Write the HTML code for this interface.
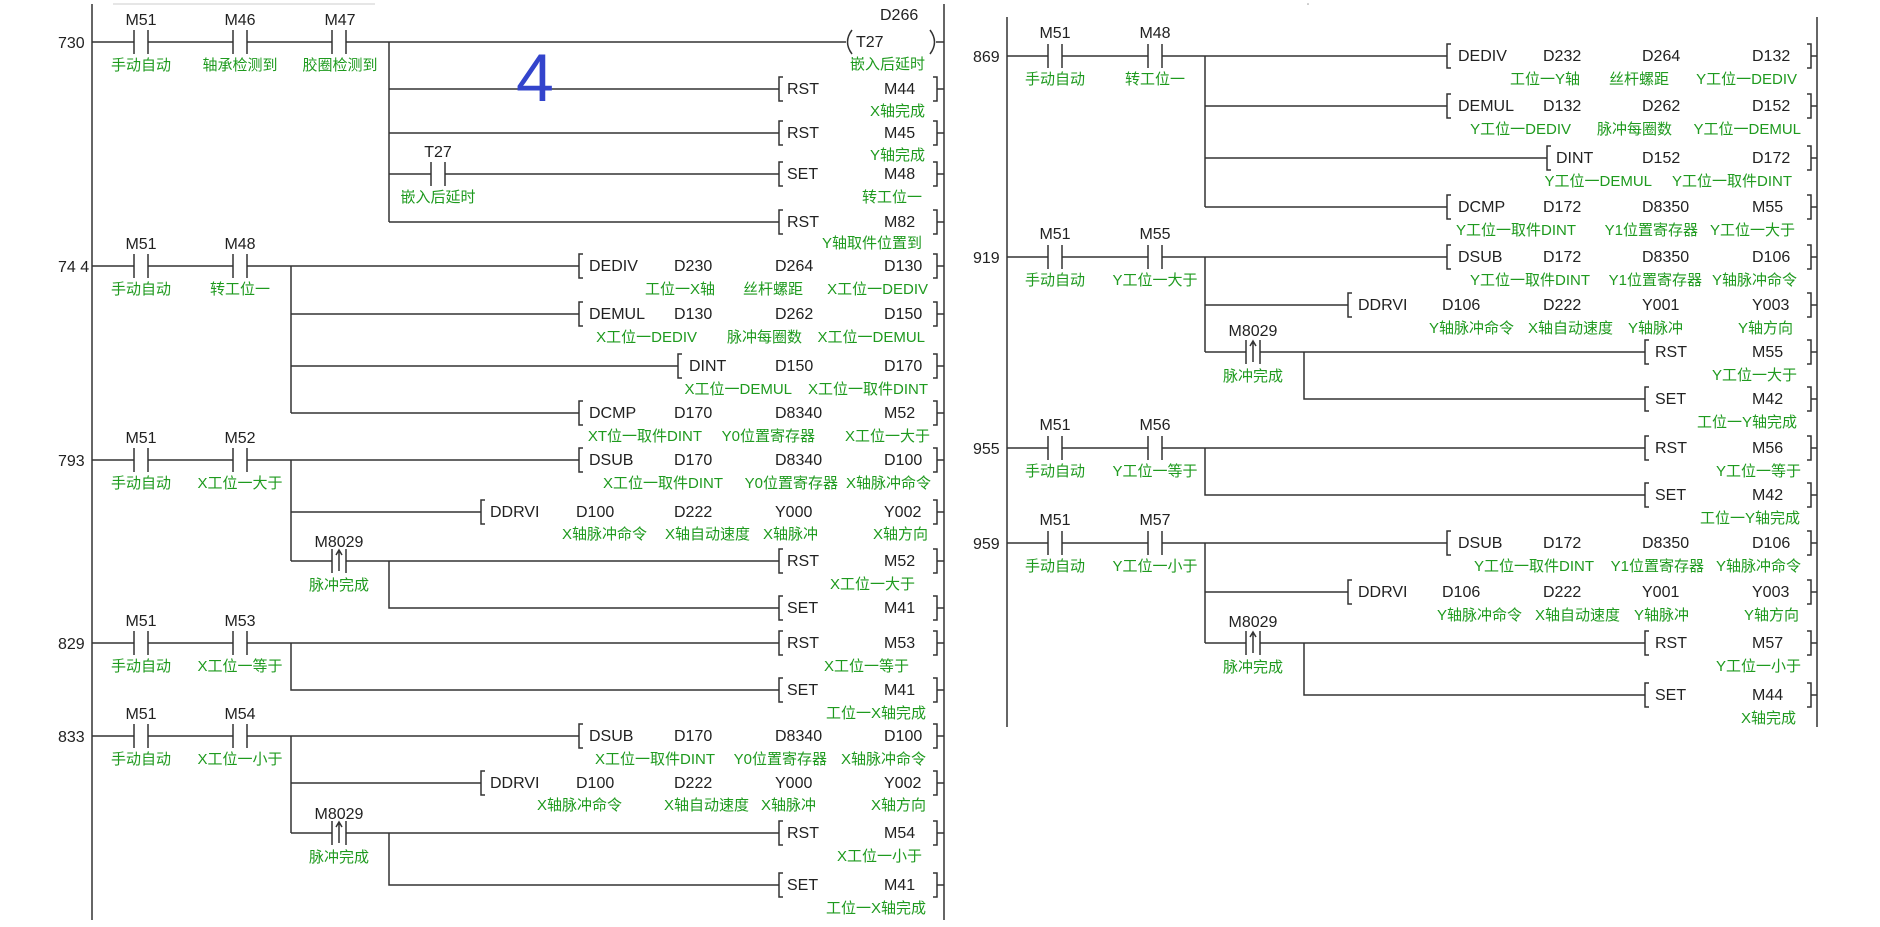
<!DOCTYPE html>
<html><head><meta charset="utf-8"><style>
html,body{margin:0;padding:0;background:#fff;}
svg{display:block}
.w{fill:none;stroke:#333;stroke-width:1.5}
text{font-family:"Liberation Sans","Noto Sans CJK SC",sans-serif;font-size:16px;fill:#222}
.g{fill:#1e9a1e;font-size:15px;text-anchor:end}
.gc{fill:#1e9a1e;font-size:15px;text-anchor:middle}
.c{text-anchor:middle}
</style></head><body>
<svg width="1880" height="927" viewBox="0 0 1880 927" xmlns="http://www.w3.org/2000/svg">
<path d="M113 4 H375" stroke="#ddd" stroke-width="1.5"/>
<!-- LEFT PANEL WIRES -->
<path class="w" d="M92 4 V920 M944 4 V920
M92 42 H134 M148 42 H233 M247 42 H332 M346 42 H846
M852 30 Q843 42 852 54 M930 30 Q939 42 930 54 M936 42 H944
M389 42 V222 M389 89 H779 M389 133 H779 M389 174 H431 M445 174 H779 M389 222 H779
M92 266 H134 M148 266 H233 M247 266 H579 M291 266 V413 M291 314 H579 M291 366 H678 M291 413 H579
M92 460 H134 M148 460 H233 M247 460 H579 M291 460 V561 M291 512 H481 M291 561 H332 M346 561 H779 M389 561 V608 H779
M92 643 H134 M148 643 H233 M247 643 H779 M291 643 V690 H779
M92 736 H134 M148 736 H233 M247 736 H579 M291 736 V833 M291 783 H481 M291 833 H332 M346 833 H779 M389 833 V885 H779
"/>
<!-- contacts left -->
<path class="w" d="
M134 30 V54 M148 30 V54 M233 30 V54 M247 30 V54 M332 30 V54 M346 30 V54
M431 162 V186 M445 162 V186
M134 254 V278 M148 254 V278 M233 254 V278 M247 254 V278
M134 448 V472 M148 448 V472 M233 448 V472 M247 448 V472
M332 549 V573 M346 549 V573 M339 571 V550 M336 555 L339 550 L342 555
M134 631 V655 M148 631 V655 M233 631 V655 M247 631 V655
M134 724 V748 M148 724 V748 M233 724 V748 M247 724 V748
M332 821 V845 M346 821 V845 M339 843 V822 M336 827 L339 822 L342 827
"/>
<!-- brackets left -->
<path class="w" d="
M783 77 H779 V101 H783 M933 77 H937 V101 H933 M937 89 H944
M783 121 H779 V145 H783 M933 121 H937 V145 H933 M937 133 H944
M783 162 H779 V186 H783 M933 162 H937 V186 H933 M937 174 H944
M783 210 H779 V234 H783 M933 210 H937 V234 H933 M937 222 H944
M583 254 H579 V278 H583 M933 254 H937 V278 H933 M937 266 H944
M583 302 H579 V326 H583 M933 302 H937 V326 H933 M937 314 H944
M682 354 H678 V378 H682 M933 354 H937 V378 H933 M937 366 H944
M583 401 H579 V425 H583 M933 401 H937 V425 H933 M937 413 H944
M583 448 H579 V472 H583 M933 448 H937 V472 H933 M937 460 H944
M485 500 H481 V524 H485 M933 500 H937 V524 H933 M937 512 H944
M783 549 H779 V573 H783 M933 549 H937 V573 H933 M937 561 H944
M783 596 H779 V620 H783 M933 596 H937 V620 H933 M937 608 H944
M783 631 H779 V655 H783 M933 631 H937 V655 H933 M937 643 H944
M783 678 H779 V702 H783 M933 678 H937 V702 H933 M937 690 H944
M583 724 H579 V748 H583 M933 724 H937 V748 H933 M937 736 H944
M485 771 H481 V795 H485 M933 771 H937 V795 H933 M937 783 H944
M783 821 H779 V845 H783 M933 821 H937 V845 H933 M937 833 H944
M783 873 H779 V897 H783 M933 873 H937 V897 H933 M937 885 H944
"/>
<!-- LEFT TEXT -->
<text x="58" y="48">730</text>
<text class="c" x="141" y="25">M51</text><text class="c" x="240" y="25">M46</text><text class="c" x="340" y="25">M47</text>
<text class="gc" x="141" y="70">手动自动</text><text class="gc" x="240" y="70">轴承检测到</text><text class="gc" x="340" y="70">胶圈检测到</text>
<text x="880" y="20">D266</text><text x="856" y="47">T27</text>
<text class="g" x="925" y="69">嵌入后延时</text>
<text x="516" y="101" style="font-size:68px;fill:#3344cc">4</text>
<text x="787" y="94">RST</text><text x="884" y="94">M44</text><text class="g" x="925" y="116">X轴完成</text>
<text x="787" y="138">RST</text><text x="884" y="138">M45</text><text class="g" x="925" y="160">Y轴完成</text>
<text class="c" x="438" y="157">T27</text><text class="gc" x="438" y="202">嵌入后延时</text>
<text x="787" y="179">SET</text><text x="884" y="179">M48</text><text class="g" x="922" y="202">转工位一</text>
<text x="787" y="227">RST</text><text x="884" y="227">M82</text><text class="g" x="922" y="248">Y轴取件位置到</text>

<text x="58" y="272">74 4</text>
<text class="c" x="141" y="249">M51</text><text class="c" x="240" y="249">M48</text>
<text class="gc" x="141" y="294">手动自动</text><text class="gc" x="240" y="294">转工位一</text>
<text x="589" y="271">DEDIV</text><text x="674" y="271">D230</text><text x="775" y="271">D264</text><text x="884" y="271">D130</text>
<text class="g" x="715" y="294">工位一X轴</text><text class="g" x="803" y="294">丝杆螺距</text><text class="g" x="928" y="294">X工位一DEDIV</text>
<text x="589" y="319">DEMUL</text><text x="674" y="319">D130</text><text x="775" y="319">D262</text><text x="884" y="319">D150</text>
<text class="g" x="697" y="342">X工位一DEDIV</text><text class="g" x="802" y="342">脉冲每圈数</text><text class="g" x="925" y="342">X工位一DEMUL</text>
<text x="689" y="371">DINT</text><text x="775" y="371">D150</text><text x="884" y="371">D170</text>
<text class="g" x="792" y="394">X工位一DEMUL</text><text class="g" x="928" y="394">X工位一取件DINT</text>
<text x="589" y="418">DCMP</text><text x="674" y="418">D170</text><text x="775" y="418">D8340</text><text x="884" y="418">M52</text>
<text class="g" x="702" y="441">XT位一取件DINT</text><text class="g" x="815" y="441">Y0位置寄存器</text><text class="g" x="930" y="441">X工位一大于</text>

<text x="58" y="466">793</text>
<text class="c" x="141" y="443">M51</text><text class="c" x="240" y="443">M52</text>
<text class="gc" x="141" y="488">手动自动</text><text class="gc" x="240" y="488">X工位一大于</text>
<text x="589" y="465">DSUB</text><text x="674" y="465">D170</text><text x="775" y="465">D8340</text><text x="884" y="465">D100</text>
<text class="g" x="723" y="488">X工位一取件DINT</text><text class="g" x="838" y="488">Y0位置寄存器</text><text class="g" x="931" y="488">X轴脉冲命令</text>
<text x="490" y="517">DDRVI</text><text x="576" y="517">D100</text><text x="674" y="517">D222</text><text x="775" y="517">Y000</text><text x="884" y="517">Y002</text>
<text class="g" x="647" y="539">X轴脉冲命令</text><text class="g" x="750" y="539">X轴自动速度</text><text class="g" x="818" y="539">X轴脉冲</text><text class="g" x="928" y="539">X轴方向</text>
<text class="c" x="339" y="547">M8029</text><text class="gc" x="339" y="590">脉冲完成</text>
<text x="787" y="566">RST</text><text x="884" y="566">M52</text><text class="g" x="915" y="589">X工位一大于</text>
<text x="787" y="613">SET</text><text x="884" y="613">M41</text>

<text x="58" y="649">829</text>
<text class="c" x="141" y="626">M51</text><text class="c" x="240" y="626">M53</text>
<text class="gc" x="141" y="671">手动自动</text><text class="gc" x="240" y="671">X工位一等于</text>
<text x="787" y="648">RST</text><text x="884" y="648">M53</text><text class="g" x="909" y="671">X工位一等于</text>
<text x="787" y="695">SET</text><text x="884" y="695">M41</text><text class="g" x="926" y="718">工位一X轴完成</text>

<text x="58" y="742">833</text>
<text class="c" x="141" y="719">M51</text><text class="c" x="240" y="719">M54</text>
<text class="gc" x="141" y="764">手动自动</text><text class="gc" x="240" y="764">X工位一小于</text>
<text x="589" y="741">DSUB</text><text x="674" y="741">D170</text><text x="775" y="741">D8340</text><text x="884" y="741">D100</text>
<text class="g" x="715" y="764">X工位一取件DINT</text><text class="g" x="827" y="764">Y0位置寄存器</text><text class="g" x="926" y="764">X轴脉冲命令</text>
<text x="490" y="788">DDRVI</text><text x="576" y="788">D100</text><text x="674" y="788">D222</text><text x="775" y="788">Y000</text><text x="884" y="788">Y002</text>
<text class="g" x="622" y="810">X轴脉冲命令</text><text class="g" x="749" y="810">X轴自动速度</text><text class="g" x="816" y="810">X轴脉冲</text><text class="g" x="926" y="810">X轴方向</text>
<text class="c" x="339" y="819">M8029</text><text class="gc" x="339" y="862">脉冲完成</text>
<text x="787" y="838">RST</text><text x="884" y="838">M54</text><text class="g" x="922" y="861">X工位一小于</text>
<text x="787" y="890">SET</text><text x="884" y="890">M41</text><text class="g" x="926" y="913">工位一X轴完成</text>

<!-- RIGHT PANEL WIRES -->
<circle cx="1308" cy="4" r="0.8" fill="#999"/>
<path class="w" d="M1007 17 V727 M1817 17 V727
M1007 56 H1048 M1062 56 H1148 M1162 56 H1447 M1205 56 V207 M1205 106 H1447 M1205 158 H1547 M1205 207 H1447
M1007 257 H1048 M1062 257 H1148 M1162 257 H1447 M1205 257 V352 M1205 305 H1348 M1205 352 H1246 M1260 352 H1645 M1304 352 V399 H1645
M1007 448 H1048 M1062 448 H1148 M1162 448 H1645 M1205 448 V495 H1645
M1007 543 H1048 M1062 543 H1148 M1162 543 H1447 M1205 543 V643 M1205 592 H1348 M1205 643 H1246 M1260 643 H1645 M1304 643 V695 H1645
"/>
<path class="w" d="
M1048 44 V68 M1062 44 V68 M1148 44 V68 M1162 44 V68
M1048 245 V269 M1062 245 V269 M1148 245 V269 M1162 245 V269
M1246 340 V364 M1260 340 V364 M1253 362 V341 M1250 346 L1253 341 L1256 346
M1048 436 V460 M1062 436 V460 M1148 436 V460 M1162 436 V460
M1048 531 V555 M1062 531 V555 M1148 531 V555 M1162 531 V555
M1246 631 V655 M1260 631 V655 M1253 653 V632 M1250 637 L1253 632 L1256 637
"/>
<path class="w" d="
M1451 44 H1447 V68 H1451 M1807 44 H1811 V68 H1807 M1811 56 H1817
M1451 94 H1447 V118 H1451 M1807 94 H1811 V118 H1807 M1811 106 H1817
M1551 146 H1547 V170 H1551 M1807 146 H1811 V170 H1807 M1811 158 H1817
M1451 195 H1447 V219 H1451 M1807 195 H1811 V219 H1807 M1811 207 H1817
M1451 245 H1447 V269 H1451 M1807 245 H1811 V269 H1807 M1811 257 H1817
M1352 293 H1348 V317 H1352 M1807 293 H1811 V317 H1807 M1811 305 H1817
M1649 340 H1645 V364 H1649 M1807 340 H1811 V364 H1807 M1811 352 H1817
M1649 387 H1645 V411 H1649 M1807 387 H1811 V411 H1807 M1811 399 H1817
M1649 436 H1645 V460 H1649 M1807 436 H1811 V460 H1807 M1811 448 H1817
M1649 483 H1645 V507 H1649 M1807 483 H1811 V507 H1807 M1811 495 H1817
M1451 531 H1447 V555 H1451 M1807 531 H1811 V555 H1807 M1811 543 H1817
M1352 580 H1348 V604 H1352 M1807 580 H1811 V604 H1807 M1811 592 H1817
M1649 631 H1645 V655 H1649 M1807 631 H1811 V655 H1807 M1811 643 H1817
M1649 683 H1645 V707 H1649 M1807 683 H1811 V707 H1807 M1811 695 H1817
"/>
<!-- RIGHT TEXT -->
<text x="973" y="62">869</text>
<text class="c" x="1055" y="38">M51</text><text class="c" x="1155" y="38">M48</text>
<text class="gc" x="1055" y="84">手动自动</text><text class="gc" x="1155" y="84">转工位一</text>
<text x="1458" y="61">DEDIV</text><text x="1543" y="61">D232</text><text x="1642" y="61">D264</text><text x="1752" y="61">D132</text>
<text class="g" x="1580" y="84">工位一Y轴</text><text class="g" x="1669" y="84">丝杆螺距</text><text class="g" x="1797" y="84">Y工位一DEDIV</text>
<text x="1458" y="111">DEMUL</text><text x="1543" y="111">D132</text><text x="1642" y="111">D262</text><text x="1752" y="111">D152</text>
<text class="g" x="1571" y="134">Y工位一DEDIV</text><text class="g" x="1672" y="134">脉冲每圈数</text><text class="g" x="1801" y="134">Y工位一DEMUL</text>
<text x="1556" y="163">DINT</text><text x="1642" y="163">D152</text><text x="1752" y="163">D172</text>
<text class="g" x="1652" y="186">Y工位一DEMUL</text><text class="g" x="1792" y="186">Y工位一取件DINT</text>
<text x="1458" y="212">DCMP</text><text x="1543" y="212">D172</text><text x="1642" y="212">D8350</text><text x="1752" y="212">M55</text>
<text class="g" x="1576" y="235">Y工位一取件DINT</text><text class="g" x="1698" y="235">Y1位置寄存器</text><text class="g" x="1795" y="235">Y工位一大于</text>

<text x="973" y="263">919</text>
<text class="c" x="1055" y="239">M51</text><text class="c" x="1155" y="239">M55</text>
<text class="gc" x="1055" y="285">手动自动</text><text class="gc" x="1155" y="285">Y工位一大于</text>
<text x="1458" y="262">DSUB</text><text x="1543" y="262">D172</text><text x="1642" y="262">D8350</text><text x="1752" y="262">D106</text>
<text class="g" x="1590" y="285">Y工位一取件DINT</text><text class="g" x="1702" y="285">Y1位置寄存器</text><text class="g" x="1797" y="285">Y轴脉冲命令</text>
<text x="1358" y="310">DDRVI</text><text x="1442" y="310">D106</text><text x="1543" y="310">D222</text><text x="1642" y="310">Y001</text><text x="1752" y="310">Y003</text>
<text class="g" x="1514" y="333">Y轴脉冲命令</text><text class="g" x="1613" y="333">X轴自动速度</text><text class="g" x="1683" y="333">Y轴脉冲</text><text class="g" x="1793" y="333">Y轴方向</text>
<text class="c" x="1253" y="336">M8029</text><text class="gc" x="1253" y="381">脉冲完成</text>
<text x="1655" y="357">RST</text><text x="1752" y="357">M55</text><text class="g" x="1797" y="380">Y工位一大于</text>
<text x="1655" y="404">SET</text><text x="1752" y="404">M42</text><text class="g" x="1797" y="427">工位一Y轴完成</text>

<text x="973" y="454">955</text>
<text class="c" x="1055" y="430">M51</text><text class="c" x="1155" y="430">M56</text>
<text class="gc" x="1055" y="476">手动自动</text><text class="gc" x="1155" y="476">Y工位一等于</text>
<text x="1655" y="453">RST</text><text x="1752" y="453">M56</text><text class="g" x="1801" y="476">Y工位一等于</text>
<text x="1655" y="500">SET</text><text x="1752" y="500">M42</text><text class="g" x="1800" y="523">工位一Y轴完成</text>

<text x="973" y="549">959</text>
<text class="c" x="1055" y="525">M51</text><text class="c" x="1155" y="525">M57</text>
<text class="gc" x="1055" y="571">手动自动</text><text class="gc" x="1155" y="571">Y工位一小于</text>
<text x="1458" y="548">DSUB</text><text x="1543" y="548">D172</text><text x="1642" y="548">D8350</text><text x="1752" y="548">D106</text>
<text class="g" x="1594" y="571">Y工位一取件DINT</text><text class="g" x="1704" y="571">Y1位置寄存器</text><text class="g" x="1801" y="571">Y轴脉冲命令</text>
<text x="1358" y="597">DDRVI</text><text x="1442" y="597">D106</text><text x="1543" y="597">D222</text><text x="1642" y="597">Y001</text><text x="1752" y="597">Y003</text>
<text class="g" x="1522" y="620">Y轴脉冲命令</text><text class="g" x="1620" y="620">X轴自动速度</text><text class="g" x="1689" y="620">Y轴脉冲</text><text class="g" x="1799" y="620">Y轴方向</text>
<text class="c" x="1253" y="627">M8029</text><text class="gc" x="1253" y="672">脉冲完成</text>
<text x="1655" y="648">RST</text><text x="1752" y="648">M57</text><text class="g" x="1801" y="671">Y工位一小于</text>
<text x="1655" y="700">SET</text><text x="1752" y="700">M44</text><text class="g" x="1796" y="723">X轴完成</text>
</svg>
</body></html>
